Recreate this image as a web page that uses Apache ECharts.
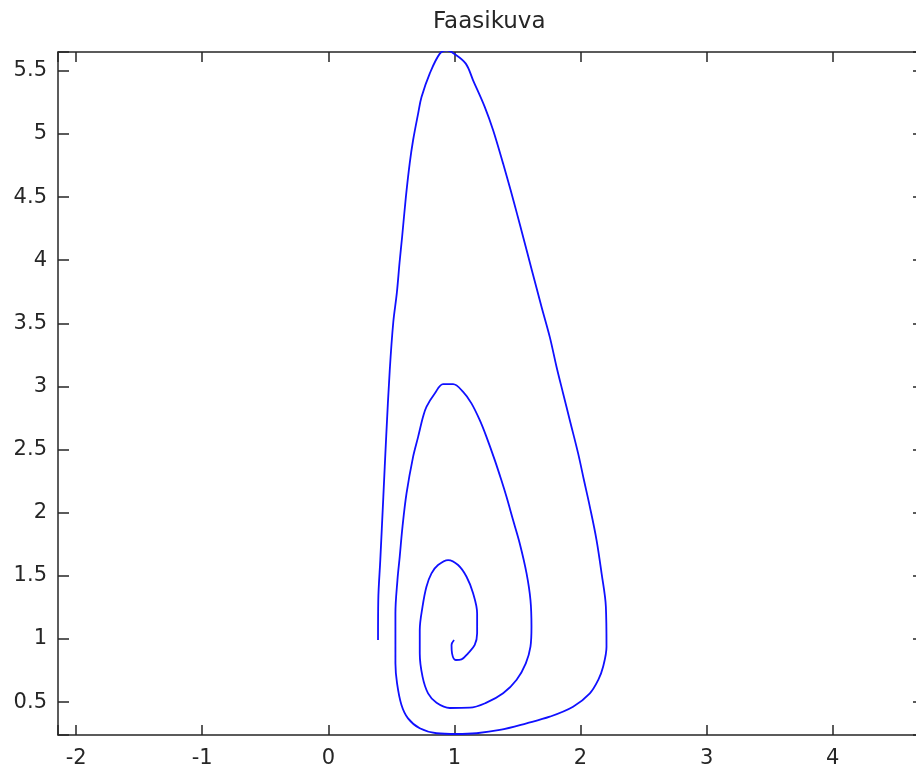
<!DOCTYPE html>
<html>
<head>
<meta charset="utf-8">
<script src="https://cdn.jsdelivr.net/npm/echarts@6/dist/echarts.min.js"></script>
<style>html,body{margin:0;padding:0;background:#fff;}#chart{width:916px;height:769px;}</style>
</head>
<body>
<div id="chart"></div>
<script>
var titleText = 'Faasikuva';
var xRange = [-2.144, 4.724];
var yRange = [0.240, 5.649];
var xStep = 1;
var yStep = 0.5;

var trajX = [
0.394,0.396,0.412,0.436,0.459,0.487,0.515,0.543,0.565,0.585,0.615,0.645,0.672,0.712,0.739,0.804,0.884,0.939,0.997,
1.090,1.148,1.241,1.307,1.386,1.446,1.496,1.545,1.614,1.691,1.756,1.810,1.862,1.915,1.981,2.027,2.074,2.127,2.167,
2.201,2.206,2.179,2.140,2.074,1.941,1.756,1.572,1.360,1.175,1.016,0.858,0.725,0.632,0.580,0.545,0.532,0.532,0.548,0.566,
0.588,0.620,0.672,0.712,0.751,0.778,0.844,0.910,0.989,1.069,1.135,1.201,1.254,1.320,1.372,1.413,1.465,1.518,1.572,
1.603,1.611,1.603,1.566,1.492,1.386,1.254,1.122,0.963,0.858,0.791,0.747,0.725,0.725,0.747,0.778,0.818,0.870,0.950,1.029,
1.096,1.148,1.180,1.180,1.161,1.108,1.056,1.011,0.981,0.977,0.997
];
var trajY = [
0.992,1.309,1.625,2.124,2.607,3.129,3.509,3.739,3.984,4.184,4.501,4.765,4.950,5.161,5.292,5.478,5.636,5.662,5.636,
5.557,5.425,5.213,5.029,4.765,4.554,4.369,4.184,3.921,3.630,3.393,3.155,2.945,2.733,2.470,2.259,2.047,1.784,1.520,
1.256,0.939,0.781,0.675,0.570,0.464,0.385,0.333,0.280,0.254,0.248,0.254,0.293,0.372,0.478,0.649,0.808,1.203,1.467,1.651,
1.889,2.153,2.443,2.601,2.760,2.839,2.945,3.018,3.018,2.957,2.866,2.733,2.601,2.417,2.259,2.126,1.942,1.757,1.520,
1.309,1.097,0.939,0.808,0.675,0.570,0.496,0.456,0.454,0.496,0.570,0.702,0.887,1.071,1.256,1.414,1.520,1.586,1.625,1.586,
1.493,1.362,1.203,1.045,0.953,0.887,0.839,0.834,0.887,0.953,0.992
];

var points = trajX.map(function (x, i) { return [x, trajY[i]]; });

function stepFormatter(step) {
  return function (v) {
    var r = v / step;
    if (Math.abs(r - Math.round(r)) > 1e-6) return '';
    return String(+v.toFixed(2));
  };
}

var axisColor = '#262626';
var labelFont = { fontFamily: 'DejaVu Sans', fontSize: 21, color: '#262626' };

function xAx(pos, show) {
  return {
    type: 'value', position: pos, min: xRange[0], max: xRange[1],
    splitNumber: 5, minInterval: xStep, maxInterval: xStep,
    axisLine: { show: true, onZero: false, lineStyle: { color: axisColor, width: 1.5 } },
    axisTick: { show: true, inside: true, length: 10, lineStyle: { color: axisColor, width: 1.5 } },
    axisLabel: Object.assign({ show: show, margin: 13, formatter: stepFormatter(xStep), showMinLabel: true, showMaxLabel: true }, labelFont),
    splitLine: { show: false }
  };
}
function yAx(pos, show) {
  return {
    type: 'value', position: pos, min: yRange[0], max: yRange[1],
    splitNumber: 10, minInterval: yStep, maxInterval: yStep,
    axisLine: { show: true, onZero: false, lineStyle: { color: axisColor, width: 1.5 } },
    axisTick: { show: true, inside: true, length: 11, lineStyle: { color: axisColor, width: 1.5 } },
    axisLabel: Object.assign({ show: show, margin: 11, formatter: stepFormatter(yStep), showMinLabel: true, showMaxLabel: true }, labelFont),
    splitLine: { show: false }
  };
}

var chart = echarts.init(document.getElementById('chart'), null, { renderer: 'canvas' });
chart.setOption({
  animation: false,
  backgroundColor: '#ffffff',
  title: {
    text: titleText, left: 428, top: 6,
    textStyle: { fontFamily: 'DejaVu Sans', fontSize: 23, fontWeight: 'normal', color: '#262626' }
  },
  grid: { left: 58, top: 52, width: 866, height: 683, containLabel: false, outerBoundsMode: 'none' },
  xAxis: [xAx('bottom', true), xAx('top', false)],
  yAxis: [yAx('left', true), yAx('right', false)],
  series: [{
    type: 'line', xAxisIndex: 0, yAxisIndex: 0,
    data: points, showSymbol: false, smooth: 0.35, clip: true,
    lineStyle: { color: '#1010ff', width: 1.8 }
  }]
});
</script>
</body>
</html>
